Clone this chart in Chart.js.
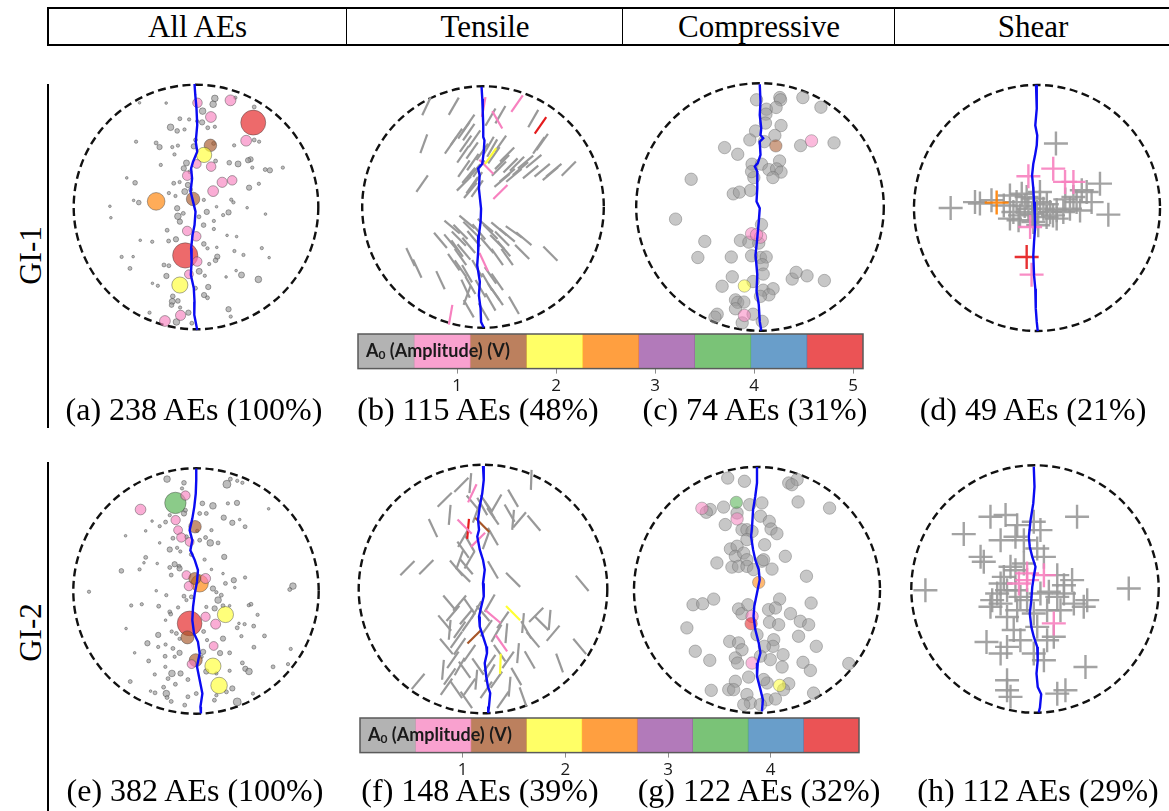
<!DOCTYPE html>
<html>
<head>
<meta charset="utf-8">
<title>AE source classification</title>
<script src="https://cdn.jsdelivr.net/npm/chart.js@4.4.0/dist/chart.umd.min.js"></script>
<style>
  body { margin: 0; background: #fff; width: 1169px; height: 811px; position: relative; overflow: hidden;
         font-family: "Liberation Serif", "Times New Roman", serif; color: #000; }
  canvas { position: absolute; }
  .hdr { position: absolute; left: 47px; top: 7px; width: 1130px; height: 35px;
         border-top: 2px solid #000; border-bottom: 2px solid #000; border-left: 2px solid #000; }
  .hdr div { position: absolute; top: 0; height: 35px; line-height: 35px; text-align: center; font-size: 31px; }
  .hdr .sep { border-left: 1.5px solid #000; }
  .cap { position: absolute; width: 360px; text-align: center; font-size: 32px; line-height: 32px; white-space: nowrap; }
  .row { position: absolute; font-size: 31px; line-height: 31px; transform: rotate(-90deg); white-space: nowrap; }
  .vline { position: absolute; left: 47px; width: 2px; background: #000; }
</style>
</head>
<body>
<div class="hdr">
  <div style="left:0;width:297px">All AEs</div>
  <div class="sep" style="left:297px;width:276px">Tensile</div>
  <div class="sep" style="left:573px;width:272px">Compressive</div>
  <div class="sep" style="left:845px;width:276px">Shear</div>
</div>

<div class="vline" style="top:84px;height:344px"></div>
<div class="vline" style="top:462px;height:349px"></div>
<div class="row" style="left:-10px;top:240px;width:80px;text-align:center">GI-1</div>
<div class="row" style="left:-10px;top:617px;width:80px;text-align:center">GI-2</div>

<canvas id="pa" width="260" height="260" style="left:66px;top:77px"></canvas>
<canvas id="pb" width="260" height="260" style="left:353px;top:77px"></canvas>
<canvas id="pc" width="260" height="260" style="left:630px;top:77px"></canvas>
<canvas id="pd" width="260" height="260" style="left:907px;top:78px"></canvas>
<canvas id="pe" width="260" height="260" style="left:66px;top:461px"></canvas>
<canvas id="pf" width="260" height="260" style="left:353px;top:459px"></canvas>
<canvas id="pg" width="260" height="260" style="left:627px;top:460px"></canvas>
<canvas id="ph" width="260" height="260" style="left:905px;top:459px"></canvas>

<canvas id="bar1" width="525" height="72" style="left:348px;top:330px"></canvas>
<canvas id="bar2" width="519" height="72" style="left:350px;top:714px"></canvas>

<div class="cap" style="left:14px;top:393px">(a) 238 AEs (100%)</div>
<div class="cap" style="left:298px;top:393px">(b) 115 AEs (48%)</div>
<div class="cap" style="left:575px;top:393px">(c) 74 AEs (31%)</div>
<div class="cap" style="left:853px;top:393px">(d) 49 AEs (21%)</div>
<div class="cap" style="left:15px;top:774px">(e) 382 AEs (100%)</div>
<div class="cap" style="left:300px;top:774px">(f) 148 AEs (39%)</div>
<div class="cap" style="left:579px;top:774px">(g) 122 AEs (32%)</div>
<div class="cap" style="left:858px;top:774px">(h) 112 AEs (29%)</div>

<script>
// specimen radius in mm; event positions are [x, y, ...] in mm from the centre
const specimenR = 50;

// amplitude colour classes (Set1) and colour bar ranges, in V
const ampColors = ['#999999', '#f781bf', '#a65628', '#ffff33', '#ff7f00', '#984ea3', '#4daf4a', '#377eb8', '#e41a1c'];
const barMax1 = 5.1;
const barMax2 = 4.86;
const barTicks1 = [1, 2, 3, 4, 5];
const barTicks2 = [1, 2, 3, 4];

// ---- GI-1 ----
// [x, y, A0]
const gi1All = [
  [7.7,44.4,.34],[7.0,42.0,.34],[2.7,39.2,.34],[2.5,34.6,.22],[4.8,32.4,.12],[7.7,32.8,.085],[0.5,35.1,.085],[-2.8,35.8,.085],
  [-6.6,36.1,.12],[-10.4,32.6,.34],[-7.7,31.1,.17],[-4.7,31.7,.085],[-12.2,42.5,.055],[-23.1,42.6,.055],[-24.5,26.7,.085],
  [-16.3,26.2,.12],[-14.9,24.5,.22],[-9.7,24.5,.085],[-7.4,25.1,.085],[-0.9,24.8,.22],[-0.2,27.4,.12],[7.2,26.0,.12],
  [15.6,25.2,.085],[23.8,27.4,.12],[25.8,26.7,.085],[22.3,19.5,.22],[21.3,19.1,.22],[17.2,17.6,.28],[13.6,18.1,.17],
  [8.0,18.8,.12],[-3.9,18.0,.28],[-5.0,15.8,.22],[-2.5,14.4,.12],[-8.8,21.5,.085],[-14.4,17.2,.085],[-24.9,9.9,.17],
  [-28.3,11.9,.055],[-9.1,9.7,.12],[-6.7,10.2,.085],[-3.3,9.0,.22],[-2.2,7.1,.12],[-4.6,6.3,.28],[-11.1,5.7,.085],
  [-8.4,4.5,.085],[3.2,2.9,.085],[14.4,3.0,.085],[15.3,1.9,.085],[13.3,-2.2,.22],[11.1,-3.3,.085],[8.4,0.1,.055],
  [4.4,-2.0,.22],[1.2,-4.0,.12],[-7.4,-3.8,.34],[-6.6,-6.0,.22],[-5.2,-2.6,.12],[-7.7,-0.5,.22],[-23.4,1.8,.17],
  [-25.5,2.7,.055],[-35.2,0.3,.055],[-34.8,-4.4,.055],[-11.8,-9.5,.12],[-8.2,-13.2,.22],[-11.2,-13.9,.12],
  [-17.9,-14.2,.085],[-22.8,-13.6,.055],[3.1,-7.4,.17],[7.3,-9.0,.085],[7.3,-5.7,.085],[3.2,-15.1,.17],[4.7,-16.9,.085],
  [8.5,-16.5,.055],[12.7,-11.6,.055],[16.6,-12.1,.055],[15.7,-18.0,.085],[8.7,-20.3,.22],[8.0,-21.8,.17],[5.4,-23.3,.085],
  [1.3,-26.3,.28],[3.6,-28.1,.085],[-13.1,-23.7,.12],[-11.1,-24.0,.12],[-12.1,-28.2,.22],[-15.6,-32.2,.085],
  [-17.8,-31.2,.055],[-27.0,-25.1,.12],[-30.4,-20.4,.085],[-25.7,-20.3,.055],[-9.5,-36.5,.17],[-9.7,-38.6,.28],
  [-10.0,-40.1,.17],[-7.4,-38.4,.17],[5.0,-32.7,.22],[3.3,-36.0,.22],[4.7,-37.1,.12],[-0.2,-33.2,.12],[13.3,-41.8,.22],
  [14.2,-44.8,.085],[18.6,-27.8,.28],[25.5,-29.6,.34],[26.9,-16.8,.085],[29.9,-20.7,.055],[19.4,-19.6,.085],
  [16.4,-26.0,.055],[12.3,-28.6,.055],[20.9,-0.3,.055],[28.4,-2.9,.055],[35.5,16.1,.085],[28.3,15.3,.12],[30.2,15.0,.22],
  [21.7,7.9,.22],[25.7,9.5,.085],[23.0,16.1,.085],[23.8,40.9,.12],[16.1,44.7,.085],[-19.0,-43.2,.085],[-8.0,-47.0,.34],
  [-3.1,-43.2,.22],[-1.7,-47.5,.12],[-6.5,-41.1,.085],
  [23.4,34.5,4.8],[14.1,43.6,0.9],[0.6,42.6,0.7],[6.1,36.8,0.9],[20.5,27.1,0.9],[5.9,25.2,1.2],[3.3,21.3,1.8],
  [6.2,16.5,0.7],[0.3,17.6,0.6],[-3.6,12.8,0.7],[10.7,10.1,0.8],[14.8,10.9,0.7],[7.0,6.5,0.9],[-16.3,2.3,2.4],
  [-1.2,3.3,1.4],[-3.6,-9.8,0.7],[0.1,-12.0,0.7],[-4.4,-19.8,4.9],[0.5,-22.3,0.7],[-2.9,-27.5,0.6],[-6.6,-31.9,2.0],
  [-12.7,-46.6,0.9],[-6.3,-44.3,0.8]
];
// [x, y, crack angle in degrees, A0]
const gi1Tensile = [
  [-23.4,41.7,65,.3],[-12.1,41.7,60,.3],[7.2,38.2,60,.3],[3.1,37.2,60,.3],[20.8,36.6,60,.3],[-5.9,34.8,55,.3],
  [-7.9,31.7,55,.3],[-11.0,29.0,55,.3],[-13.4,25.5,55,.3],[-5.9,31.0,55,.3],[-3.5,28.3,55,.3],[-7.2,26.2,55,.3],
  [-4.5,23.4,55,.3],[-8.3,21.8,55,.3],[-24.5,26.2,70,.3],[2.4,25.5,60,.3],[3.8,24.4,60,.3],[4.5,21.4,55,.3],
  [7.2,26.2,55,.3],[24.5,26.9,55,.3],[23.1,25.5,55,.3],[10.0,21.7,45,.3],[7.9,18.6,45,.3],[6.6,15.9,45,.3],
  [11.4,17.2,45,.3],[14.1,17.9,45,.3],[15.5,15.9,40,.3],[17.6,18.6,40,.3],[21.0,18.9,40,.3],[19.7,14.5,40,.3],
  [24.5,15.2,40,.3],[27.9,13.8,40,.3],[29.3,15.2,40,.3],[35.5,15.9,45,.3],[10.0,13.1,40,.3],[12.8,13.1,40,.3],
  [7.9,11.0,40,.3],[-4.2,18.6,55,.3],[-3.8,14.5,50,.3],[-5.9,13.1,50,.3],[-7.9,9.7,45,.3],[-4.5,9.0,55,.3],
  [-2.7,11.0,55,.3],[-2.4,7.6,55,.3],[-5.2,6.9,50,.3],[-25.2,9.7,55,.3],[-0.3,22.8,55,.3],[-1.7,15.9,55,.3],
  [-7.9,15.9,55,.3],
  [-6.6,-6.2,-40,.3],[-5.2,-9.0,-45,.3],[-9.3,-10.3,-45,.3],[-12.8,-8.3,-40,.3],[-3.8,-13.1,-50,.3],[1.0,-7.6,-40,.3],
  [3.1,-10.3,-45,.3],[6.6,-9.0,-40,.3],[10.0,-11.7,-40,.3],[12.8,-10.3,-35,.3],[16.9,-13.1,-40,.3],[27.9,-19.3,-45,.3],
  [-17.6,-13.8,-50,.3],[-13.4,-14.5,-50,.3],[-10.7,-17.2,-55,.3],[-7.9,-18.6,-50,.3],[-5.9,-15.9,-50,.3],
  [1.7,-15.9,-50,.3],[5.9,-14.5,-45,.3],[8.6,-17.2,-50,.3],[10.0,-20.7,-55,.3],[16.2,-18.6,-45,.3],[5.9,-20.7,-55,.3],
  [-30.0,-20.7,-65,.3],[-27.2,-25.5,-65,.3],[-12.1,-22.8,-55,.3],[-9.3,-25.5,-55,.3],[-6.6,-27.6,-60,.3],
  [3.1,-28.3,-55,.3],[5.9,-31.0,-55,.3],[-17.6,-30.3,-65,.3],[-5.2,-32.4,-60,.3],[-1.0,-33.8,-60,.3],[4.5,-35.2,-55,.3],
  [5.9,-37.2,-55,.3],[-6.6,-36.6,70,.3],[-5.9,-42.1,-60,.3],[12.8,-40.7,-60,.3],[0.3,-43.4,-60,.3],[-10.0,-13.1,-45,.3],
  [-1.7,-10.3,-50,.3],[7.9,-13.1,-45,.3],[-9.3,-20.7,-55,.3],[-2.4,-25.5,-60,.3],[1.7,-31.0,-60,.3],[-7.2,-33.8,-65,.3],
  [3.1,-39.3,-60,.3],
  [0.3,41.4,80,.8],[14.1,42.8,55,.9],[5.9,36.1,-60,.8],[23.8,33.8,55,4.8],[3.1,21.0,55,1.9],[1.4,16.6,-45,.8],
  [7.2,6.2,45,.8],[0.3,-22.8,-65,.9],[-13.4,-44.6,80,.9]
];
const gi1Compressive = [
  [-1.4,43.3,.3],[8.0,44.2,.3],[8.3,43.3,.3],[17.3,44.2,.3],[24.6,40.3,.3],[2.6,39.5,.3],[6.5,40.2,.3],[2.4,37.5,.3],
  [2.2,33.9,.3],[8.5,32.9,.3],[-1.8,30.7,.3],[-4.1,27.1,.3],[6.0,28.9,.3],[1.8,26.4,.3],[16.4,24.8,.3],[29.9,25.9,.3],
  [-14.3,24.0,.3],[-9.0,21.3,.3],[-3.2,17.3,.3],[0.6,17.3,.3],[7.9,18.6,.3],[3.6,15.1,.3],[6.7,15.4,.3],[8.5,14.1,.3],
  [5.2,11.9,.3],[-2.5,11.9,.3],[-3.4,14.3,.3],[-27.8,11.2,.3],[-10.8,5.3,.3],[-8.3,6.0,.3],[-3.8,6.7,.3],[-34.1,-4.9,.3],
  [0.6,-7.1,.3],[-22.3,-13.9,.3],[-7.9,-13.5,.3],[-4.5,-14.2,.3],[-0.5,-14.6,.3],[-25.1,-20.4,.3],[-11.6,-20.2,.3],
  [-3.4,-19.7,.3],[0.2,-20.4,.3],[2.5,-20.2,.3],[0.9,-23.3,.3],[1.3,-27.1,.3],[-11.2,-28.2,.3],[-15.3,-32.0,.3],
  [-2.8,-30.1,.3],[1.3,-33.6,.3],[5.3,-33.0,.3],[3.6,-35.5,.3],[0.2,-36.1,.3],[13.0,-29.1,.3],[14.6,-26.4,.3],
  [19.0,-27.8,.3],[26.0,-29.7,.3],[-9.9,-37.5,.3],[-9.0,-38.5,.3],[-6.5,-38.4,.3],[-9.9,-41.1,.3],[-17.3,-43.3,.3],
  [-18.2,-44.5,.3],[-2.8,-43.3,.3],[-7.2,-46.8,.3],[0.9,-46.2,.3],
  [6.4,24.7,1.3],[20.8,26.7,.8],[-3.4,-10.8,.8],[0.2,-12.2,.8],[-1.4,-11.2,.7],[-6.3,-31.9,1.9],[-6.3,-43.8,.8]
];
const gi1Shear = [
  [7.7,26.2,.3],[25.6,9.9,.3],[20.2,6.5,.3],[14.8,4.5,.3],[16.1,2.4,.3],[22.2,2.4,.3],[29.0,-2.7,.3],[-35.1,0.0,.3],
  [-25.2,2.4,.3],[-23.2,1.8,.3],[-11.0,5.1,.3],[-8.3,2.4,.3],[-6.2,5.8,.3],[-4.2,4.5,.3],[-1.5,3.8,.3],[1.2,2.4,.3],
  [-9.6,-1.6,.3],[-6.9,-3.0,.3],[-3.5,-0.3,.3],[-0.1,-1.6,.3],[2.6,-0.3,.3],[5.3,-1.6,.3],[8.0,-0.9,.3],[10.7,-1.6,.3],
  [13.4,-0.3,.3],[8.0,-4.3,.3],[3.9,-3.7,.3],[-1.5,-5.7,.3],[18.2,7.2,.3],[-11.0,-4.3,.3],[1.2,6.5,.3],
  [-13.5,1.0,.3],[-5.0,0.8,.3],[4.0,1.5,.3],[6.5,-3.0,.3],[-2.0,-2.5,.3],[11.5,3.5,.3],[-7.5,-5.0,.3],[0.5,-7.0,.3],
  [17.5,-1.0,.3],[-18.5,3.2,.3],
  [6.6,16.0,.8],[-3.5,12.9,.8],[11.4,10.6,.8],[14.8,10.6,.8],[-16.4,2.2,2.5],[-2.8,-7.7,.8],[-4.2,-19.9,4.8],[-2.2,-27.1,.8]
];

// macro-crack traces, [x, y] in mm
const crackA = [[-0.6,50.3],[-0.3,45.8],[0.2,40.3],[0.5,33.5],[-0.1,26.7],[0.5,22.6],[-1.2,18.5],[-2.0,15.8],[-1.6,11.7],
  [-2.2,6.3],[-1.2,2.2],[-0.2,-1.9],[-0.6,-7.4],[-1.4,-11.4],[-2.0,-16.9],[-1.8,-22.3],[-2.1,-27.8],[-0.9,-33.2],
  [-0.6,-38.7],[-0.7,-44.1],[0.5,-50.3]];
const crackB = [[-0.6,49.7],[-0.3,44.8],[-0.1,39.3],[0.1,33.8],[0.1,29.0],[0.6,27.6],[0.3,22.8],[-0.3,17.9],[-2.0,15.9],
  [-1.4,13.1],[-1.7,7.6],[-0.8,-0.7],[-1.0,-6.2],[-1.7,-11.7],[-2.0,-18.6],[-2.4,-24.1],[-1.3,-31.0],[-1.7,-36.6],
  [-1.0,-42.1],[-0.8,-47.6],[0.3,-49.9]];
const crackC = [[-0.1,49.6],[0.2,42.6],[-0.1,37.2],[0.5,31.8],[0.2,29.1],[1.3,27.8],[-0.1,26.4],[0.2,21.1],[-0.9,17.7],
  [-2.1,16.4],[-1.1,14.3],[-1.1,7.6],[-1.4,2.2],[-0.1,-0.5],[-0.5,-5.9],[-1.1,-12.6],[-1.8,-19.3],[-1.1,-27.3],
  [-1.4,-34.0],[-0.5,-39.4],[-0.1,-46.2],[0.5,-49.9]];
const crackD = [[-0.4,50.1],[-0.1,40.4],[-0.7,33.6],[0.1,29.5],[-0.1,25.5],[-0.8,21.4],[-1.5,18.0],[-2.0,13.3],[-1.5,7.9],
  [-1.2,2.4],[-0.9,-3.0],[-0.8,-8.4],[-1.2,-13.8],[-1.5,-19.2],[-1.2,-27.4],[-0.7,-32.8],[-0.5,-40.9],[-0.1,-46.3],
  [0.3,-50.1]];

// ---- GI-2 ----
const gi2All = [
  [-11.8,45.6,.34],[-4.9,44.1,.17],[-5.7,41.8,.085],[12.6,43.5,.49],[14.0,45.6,.12],[16.8,44.9,.085],[18.9,44.1,.085],
  [2.6,35.7,.17],[6.9,34.7,.34],[13.0,35.7,.085],[16.7,35.9,.22],[29.6,33.5,.055],[-10.7,30.9,.085],[-4.9,31.6,.22],
  [-4.3,32.9,.12],[1.5,31.6,.12],[4.2,31.6,.12],[11.3,29.9,.22],[14.8,27.8,.22],[20.0,26.2,.12],[17.8,29.1,.055],
  [-17.9,28.5,.055],[-14.8,26.4,.085],[-12.4,28.1,.12],[-20.5,24.5,.055],[-28.7,22.5,.055],[-9.4,21.5,.12],
  [-3.9,22.1,.12],[3.9,21.8,.12],[6.3,24.8,.085],[5.8,19.6,.34],[9.0,19.6,.12],[0.5,24.5,.085],[1.5,20.7,.12],
  [-10.7,16.9,.22],[-7.7,17.6,.085],[-14.8,19.6,.055],[-6.4,16.1,.085],[-1.9,14.9,.12],[3.5,12.8,.085],[11.5,13.9,.22],
  [-20.5,13.7,.12],[-21.2,11.5,.055],[-23.0,8.8,.085],[-30.4,8.2,.17],[-15.8,11.2,.055],[-10.7,9.6,.12],[-8.7,10.9,.22],
  [-6.9,10.1,.12],[-10.1,6.5,.12],[-6.7,9.2,.22],[6.3,8.8,.055],[11.0,7.1,.055],[15.4,4.4,.22],[20.0,5.5,.085],
  [12.0,3.1,.12],[6.9,1.0,.22],[8.3,-0.5,.085],[15.8,1.4,.055],[10.3,-1.7,.12],[9.0,-3.7,.34],[11.0,-6.0,.12],
  [7.6,-7.1,.22],[39.5,2.0,.34],[38.2,0.6,.12],[-43.6,-0.3,.085],[-26.4,-5.9,.085],[-22.1,-5.4,.085],[-16.2,0.1,.055],
  [-12.1,-1.7,.085],[-15.2,-6.2,.12],[-10.7,-8.5,.12],[-7.3,-6.7,.085],[-4.9,-2.1,.12],[-3.9,-3.7,.085],[-1.9,-2.4,.12],
  [4.2,-6.5,.085],[13.7,-6.0,.055],[22.4,-5.4,.12],[21.5,-5.8,.085],[25.1,-9.7,.085],[-10.3,-9.4,.12],[-12.4,-11.9,.055],
  [-9.9,-16.5,.085],[-8.0,-17.3,.12],[-6.7,-19.5,.085],[-15.4,-17.9,.22],[-19.8,-21.3,.22],[-15.4,-22.8,.085],
  [-12.4,-21.8,.085],[-9.4,-23.4,.12],[-6.7,-25.2,.22],[-8.7,-26.8,.085],[-12.6,-26.6,.12],[-25.0,-25.2,.055],
  [-28.5,-15.3,.055],[3.1,-16.5,.12],[4.5,-20.0,.085],[11.0,-19.4,.22],[16.8,-15.0,.12],[17.5,-13.2,.055],
  [19.8,-13.5,.085],[23.5,-14.3,.12],[18.5,-18.4,.085],[23.6,-22.9,.12],[27.9,-18.3,.12],[38.6,-23.6,.085],
  [9.8,-25.3,.22],[13.7,-25.2,.12],[2.9,-24.8,.22],[2.3,-26.8,.085],[-19.3,-28.5,.12],[-12.5,-30.9,.085],
  [-9.8,-33.6,.34],[-6.3,-33.6,.22],[-3.3,-36.1,.12],[-11.4,-35.7,.12],[-8.4,-38.0,.12],[-13.2,-39.2,.12],
  [-16.8,-34.0,.085],[-26.8,-36.9,.12],[-16.7,-41.5,.12],[-18.5,-40.8,.055],[-12.1,-41.8,.34],[-11.8,-43.4,.12],
  [-10.1,-45.0,.12],[-3.3,-43.1,.12],[-4.6,-46.5,.12],[4.2,-32.8,.22],[8.3,-33.6,.085],[13.7,-32.5,.085],
  [14.8,-39.7,.22],[18.9,-29.3,.12],[20.1,-31.7,.22],[21.6,-32.8,.34],[31.4,-30.9,.12],[37.5,-29.8,.085],
  [23.2,-41.8,.085],[16.8,-45.2,.49],[7.5,-44.5,.12],[8.3,-42.5,.085],[0.1,-41.8,.12],[12.4,-41.1,.12],
  [-8.4,35.9,3.5],[-4.3,38.9,.67],[-22.6,33.2,.88],[-8.3,28.9,.67],[-0.4,26.2,1.2],[-7.3,24.8,.6],[-6.0,21.8,.67],
  [-2.6,20.0,.6],[-3.9,6.5,.6],[1.5,3.1,2.3],[3.9,5.1,.77],[-2.9,2.0,.67],[-0.5,5.1,1.1],[12.0,-9.6,2.0],
  [3.9,-10.5,.67],[8.0,-13.5,.77],[-2.6,-13.2,4.7],[-3.5,-18.9,1.3],[7.2,-22.4,.6],[-0.1,-28.2,1.3],[-1.8,-29.8,.6],
  [6.9,-30.6,2.0],[9.4,-38.5,2.1]
];
const gi2Tensile = [
  [-8.7,41.9,45,.3],[-5.1,42.6,85,.3],[-15.4,35.9,45,.3],[-13.4,29.8,85,.3],[-20.1,24.5,-65,.3],[1.3,34.5,-55,.3],
  [2.7,31.8,-60,.3],[-0.3,33.2,-60,.3],[5.4,34.5,60,.3],[12.1,36.5,-60,.3],[10.7,30.5,-60,.3],[12.1,27.8,85,.3],
  [14.7,27.8,50,.3],[20.5,26.5,-50,.3],[19.4,43.9,88,.3],[4.0,21.1,-60,.3],[1.3,19.8,70,.3],[-8.0,20.4,60,.3],
  [-8.0,15.8,-55,.3],[-5.4,11.7,60,.3],[-9.4,11.7,70,.3],[-6.7,9.0,-50,.3],[-10.7,8.4,-50,.3],[-8.0,5.7,-45,.3],
  [4.0,7.7,-60,.3],[-30.4,8.4,45,.3],[-22.8,8.8,45,.3],[12.1,3.7,-45,.3],[39.9,2.3,-50,.3],
  [-4.0,34.5,-50,.3],[-2.7,30.5,70,.3],[4.0,29.2,-55,.3],[-5.4,18.4,-60,.3],
  [-9.4,-5.7,50,.3],[-5.4,-7.0,-55,.3],[-12.1,-9.8,50,.3],[2.7,-5.7,60,.3],[0.0,-9.8,-50,.3],[8.0,-12.4,55,.3],
  [21.4,-10.4,45,.3],[23.5,-13.7,-45,.3],[26.8,-12.4,85,.3],[-15.4,-13.7,-50,.3],[-13.4,-16.4,85,.3],[-9.4,-16.4,55,.3],
  [-6.0,-13.7,55,.3],[1.3,-15.8,55,.3],[5.4,-17.8,60,.3],[9.4,-17.8,85,.3],[16.1,-13.7,85,.3],[17.4,-16.4,-60,.3],
  [20.1,-20.4,-50,.3],[28.2,-17.8,50,.3],[38.9,-23.1,-50,.3],[-14.7,-23.1,-50,.3],[-9.4,-23.1,55,.3],[-5.4,-25.8,55,.3],
  [-12.1,-28.5,55,.3],[-16.1,-32.5,85,.3],[-13.4,-35.2,55,.3],[-7.4,-32.5,-55,.3],[-2.0,-31.2,-55,.3],[2.7,-29.8,55,.3],
  [10.1,-28.5,55,.3],[14.1,-25.8,85,.3],[18.8,-28.5,-60,.3],[30.8,-29.8,-70,.3],[-26.1,-37.2,50,.3],[-14.7,-39.3,55,.3],
  [-10.7,-40.6,-55,.3],[-5.4,-39.3,55,.3],[-2.7,-36.5,85,.3],[1.3,-40.6,55,.3],[5.4,-36.5,55,.3],[10.7,-39.3,85,.3],
  [16.1,-43.4,-70,.3],[8.0,-44.6,55,.3],[-6.7,-44.6,-55,.3],
  [-13.4,-5.7,-50,.3],[-6.7,-11.1,50,.3],[-2.7,-8.4,60,.3],[-10.7,-20.4,55,.3],[6.7,-25.8,-55,.3],[2.7,-33.8,60,.3],
  [-9.4,-31.2,60,.3],[13.4,-35.2,-60,.3],
  [-4.3,38.5,65,.8],[-6.0,24.2,85,4.7],[-7.4,25.1,-45,.8],[-0.3,25.8,-45,1.3],[-2.0,19.8,45,.8],[4.0,-11.1,-40,.8],
  [12.1,-9.7,-45,1.9],[-3.4,-19.1,45,1.3],[7.4,-21.8,-55,.8],[7.0,-30.1,88,1.9]
];
const gi2Compressive = [
  [-11.9,45.5,.3],[-5.1,44.2,.3],[12.9,43.5,.3],[16.3,44.9,.3],[14.2,42.8,.3],[16.7,35.8,.3],[29.5,33.3,.3],
  [-19.0,32.7,.3],[-20.6,31.6,.3],[-13.6,33.7,.3],[-8.1,31.3,.3],[-3.0,34.7,.3],[2.0,35.4,.3],[1.4,30.0,.3],[5.0,27.9,.3],
  [5.7,24.8,.3],[8.1,22.9,.3],[-12.9,26.6,.3],[-6.1,24.5,.3],[-4.1,24.5,.3],[-2.0,23.8,.3],[-4.1,20.5,.3],[3.1,18.4,.3],
  [-10.8,16.7,.3],[-8.1,17.8,.3],[-8.8,13.7,.3],[-5.4,15.0,.3],[-4.1,12.3,.3],[-16.3,11.0,.3],[-10.2,9.3,.3],
  [-7.5,9.6,.3],[-4.1,9.6,.3],[-1.4,8.3,.3],[2.0,11.7,.3],[2.7,12.3,.3],[6.1,8.5,.3],[11.5,13.7,.3],[20.1,5.6,.3],
  [-26.0,-6.0,.3],[-22.1,-5.6,.3],[-17.6,-3.7,.3],[-7.5,-7.7,.3],[-6.1,-9.6,.3],[-3.7,-6.0,.3],[9.2,-3.7,.3],
  [4.7,-8.0,.3],[7.5,-7.3,.3],[5.1,-13.1,.3],[8.8,-14.1,.3],[13.6,-9.6,.3],[17.6,-12.7,.3],[21.0,-14.1,.3],[22.0,-5.3,.3],
  [-28.5,-15.4,.3],[-11.1,-20.9,.3],[-7.5,-21.5,.3],[-6.1,-24.3,.3],[0.0,-18.2,.3],[6.8,-20.2,.3],[6.5,-22.9,.3],
  [3.0,-22.9,.3],[1.4,-26.9,.3],[5.4,-28.3,.3],[16.9,-18.8,.3],[24.1,-22.9,.3],[-25.1,-24.9,.3],[-19.2,-28.6,.3],
  [-8.8,-27.6,.3],[-7.9,-29.7,.3],[10.6,-26.3,.3],[10.2,-31.3,.3],[18.7,-29.4,.3],[21.7,-32.7,.3],[37.3,-29.9,.3],
  [-8.8,-37.1,.3],[-11.5,-40.5,.3],[-18.6,-40.8,.3],[-9.5,-40.5,.3],[-3.4,-35.4,.3],[4.1,-37.8,.3],[12.9,-38.1,.3],
  [10.8,-40.5,.3],[23.0,-41.9,.3],[-4.1,-42.5,.3],[-2.7,-45.9,.3],[-5.4,-46.6,.3],[4.1,-44.6,.3],[7.5,-44.3,.3],
  [1.4,-46.6,.3],[2.7,-36.4,.3],
  [-22.4,33.2,.8],[-8.4,35.6,3.5],[-8.1,28.9,.8],[0.7,3.1,2.4],[-2.0,-10.7,.8],[-2.4,-13.7,4.7],[-2.0,-29.7,.8],
  [9.2,-38.8,1.9]
];
const gi2Shear = [
  [-18.0,29.2,.3],[-11.9,29.9,.3],[-28.8,22.2,.3],[-7.2,25.8,.3],[-0.5,27.2,.3],[2.2,23.8,.3],[17.0,29.2,.3],
  [-13.9,19.7,.3],[-7.9,21.1,.3],[-4.5,19.7,.3],[0.9,16.4,.3],[3.6,13.0,.3],[-22.0,13.0,.3],[-20.7,11.0,.3],
  [-9.9,9.0,.3],[-7.9,7.6,.3],[-4.5,10.3,.3],[-12.6,4.9,.3],[-11.3,-0.5,.3],[-7.9,-0.5,.3],[-15.3,-1.8,.3],
  [-17.3,-4.5,.3],[-18.0,-7.2,.3],[-13.9,-5.9,.3],[-5.9,-3.2,.3],[-3.2,-4.5,.3],[2.2,-1.8,.3],[5.6,-1.1,.3],
  [9.0,-3.2,.3],[11.7,1.5,.3],[15.0,3.6,.3],[11.7,-1.8,.3],[21.1,-4.5,.3],[15.7,-5.9,.3],[19.7,-7.2,.3],[10.3,-8.6,.3],
  [4.9,-8.6,.3],[-0.5,-9.9,.3],[-7.2,-8.6,.3],[-11.3,-11.3,.3],[-8.6,-16.6,.3],[-5.9,-20.7,.3],[-11.3,-23.4,.3],
  [-13.9,-26.1,.3],[-19.6,-21.4,.3],[4.9,-20.7,.3],[7.6,-19.3,.3],[0.9,-15.3,.3],[3.6,-28.8,.3],[20.4,-31.5,.3],
  [-11.3,-36.9,.3],[-11.3,-40.9,.3],[-9.9,-43.6,.3],[9.0,-42.3,.3],[12.3,-40.9,.3],[37.9,0.2,.3],[-44.3,-0.5,.3],
  [-0.5,-26.1,.3],[9.0,5.6,.3],[-13.9,2.2,.3],
  [-3.2,6.3,.8],[3.6,5.6,.8],[-6.5,2.2,.8],[-3.2,3.6,.8],[7.6,-13.9,.8]
];

const crackE = [[0.1,49.9],[0.1,45.2],[-0.1,39.7],[-0.7,34.3],[-1.5,29.5],[-2.6,24.8],[-1.5,20.7],[-2.3,16.6],[-0.5,12.6],
  [0.8,8.5],[0.4,3.7],[-0.5,-1.0],[-1.2,-6.5],[-1.5,-11.9],[-0.8,-17.3],[0.8,-20.7],[1.5,-25.5],[0.4,-30.8],[1.5,-36.3],
  [2.6,-41.8],[1.8,-47.2],[2.0,-49.9]];
const crackF = [[0.0,49.5],[0.3,43.9],[-0.3,38.5],[-1.3,33.2],[-2.0,27.9],[-1.6,23.8],[-2.3,21.1],[-1.3,15.8],[0.0,11.7],
  [0.7,7.7],[0.0,2.3],[0.3,-3.0],[-0.7,-7.0],[-1.6,-11.1],[-1.3,-15.1],[0.0,-19.1],[1.3,-23.1],[1.6,-25.8],[0.7,-29.8],
  [1.3,-35.2],[2.0,-39.3],[2.9,-41.9],[2.4,-47.3],[2.1,-49.9]];
const crackG = [[0.0,50.0],[0.0,43.5],[-0.7,38.1],[-1.6,32.6],[-2.0,25.9],[-2.4,21.8],[-1.6,16.4],[-0.7,12.3],[0.7,8.3],
  [1.1,4.2],[0.0,-1.2],[-1.1,-6.6],[-1.4,-10.7],[-0.7,-16.1],[0.7,-21.5],[1.4,-25.6],[0.3,-29.7],[0.0,-35.1],
  [1.4,-40.5],[2.4,-44.6],[2.0,-49.3]];
const crackH = [[-0.5,49.4],[-0.2,41.3],[-0.7,34.6],[-1.8,27.8],[-2.5,21.1],[-2.1,17.0],[-1.1,13.0],[0.2,9.0],[-0.5,4.9],
  [-1.1,0.9],[-1.5,-4.5],[-2.1,-9.9],[-1.5,-15.3],[-0.5,-19.3],[0.9,-23.4],[1.1,-28.8],[0.6,-34.2],[1.1,-39.6],
  [2.5,-42.5],[2.0,-47.9],[1.5,-49.9]];

function rgba(hex, a) {
  const n = parseInt(hex.slice(1), 16);
  return `rgba(${n >> 16},${(n >> 8) & 255},${n & 255},${a})`;
}

function ampColor(a, max) {
  return ampColors[Math.min(8, Math.floor(a / (max / 9)))];
}

// dashed outline of the specimen
const outline = {
  id: 'outline',
  beforeDatasetsDraw(chart) {
    const { ctx, scales: { x, y } } = chart;
    const cx = x.getPixelForValue(0);
    const cy = y.getPixelForValue(0);
    const r = x.getPixelForValue(specimenR) - cx;
    ctx.save();
    ctx.setLineDash([8, 4.5]);
    ctx.lineWidth = 2.4;
    ctx.strokeStyle = '#111';
    ctx.beginPath();
    ctx.arc(cx, cy, r, 0, Math.PI * 2);
    ctx.stroke();
    ctx.restore();
  }
};

function eventSet(events, kind, max) {
  const cols = events.map(e => ampColor(e[e.length - 1], max));
  const pts = events.map(e => ({ x: e[0], y: e[1] }));
  if (kind === 'all') {
    return {
      data: pts, pointStyle: 'circle',
      pointRadius: events.map(e => 5.7 * Math.sqrt(e[2])),
      pointBackgroundColor: cols.map(c => rgba(c, 0.65)),
      pointBorderColor: 'rgba(60,60,60,0.55)', pointBorderWidth: 0.8
    };
  }
  if (kind === 'compressive') {
    return {
      data: pts, pointStyle: 'circle', pointRadius: 6.2,
      pointBackgroundColor: cols.map(c => rgba(c, 0.55)),
      pointBorderColor: 'rgba(110,110,110,0.45)', pointBorderWidth: 1
    };
  }
  if (kind === 'tensile') {
    return {
      data: pts, pointStyle: 'line', pointRadius: 10,
      pointRotation: events.map(e => -e[2]),
      pointBorderColor: cols, pointBackgroundColor: cols, pointBorderWidth: 2.2
    };
  }
  return {
    data: pts, pointStyle: 'cross', pointRadius: 12,
    pointBorderColor: cols.map(c => rgba(c, 0.9)), pointBorderWidth: 2.4
  };
}

function drawPanel(id, events, crack, kind, max, rPx) {
  const half = specimenR * 130 / rPx;
  new Chart(document.getElementById(id), {
    type: 'scatter',
    data: {
      datasets: [
        Object.assign(eventSet(events, kind, max), { order: 1 }),
        {
          data: crack.map(p => ({ x: p[0], y: p[1] })), showLine: true, order: 0,
          borderColor: '#0b0bf2', borderWidth: 2.4, pointRadius: 0, tension: 0
        }
      ]
    },
    options: {
      responsive: false, animation: false, events: [],
      layout: { padding: 0, autoPadding: false },
      plugins: { legend: { display: false }, tooltip: { enabled: false } },
      scales: {
        x: { type: 'linear', min: -half, max: half, display: false },
        y: { type: 'linear', min: -half, max: half, display: false }
      }
    },
    plugins: [outline]
  });
}

// title and frame inside the colour bar
const barLabel = {
  id: 'barLabel',
  afterDatasetsDraw(chart) {
    const { ctx, chartArea: a } = chart;
    const ym = (a.top + a.bottom) / 2;
    ctx.save();
    ctx.strokeStyle = '#5a5a5a';
    ctx.lineWidth = 1.5;
    ctx.strokeRect(a.left, a.top, a.right - a.left, a.bottom - a.top);
    ctx.fillStyle = '#1a1a1a';
    ctx.textBaseline = 'middle';
    let x = a.left + 8;
    ctx.font = 'bold 18px Lato';
    ctx.fillText('A', x, ym);
    x += ctx.measureText('A').width;
    ctx.font = 'bold 12px Lato';
    ctx.fillText('0', x, ym + 4);
    x += ctx.measureText('0').width;
    ctx.font = 'bold 18px Lato';
    ctx.fillText(' (Amplitude) (V)', x, ym);
    ctx.restore();
  }
};

function drawColorbar(id, max, ticks) {
  const step = max / 9;
  new Chart(document.getElementById(id), {
    type: 'bar',
    data: {
      labels: [''],
      datasets: ampColors.map(c => ({
        data: [step], backgroundColor: rgba(c, 0.75), borderWidth: 0,
        barPercentage: 1, categoryPercentage: 1
      }))
    },
    options: {
      indexAxis: 'y', responsive: false, animation: false, events: [],
      layout: { padding: { left: 10, right: 10, top: 4, bottom: 4 } },
      plugins: { legend: { display: false }, tooltip: { enabled: false } },
      scales: {
        x: {
          stacked: true, min: 0, max: max,
          afterBuildTicks: s => { s.ticks = ticks.map(v => ({ value: v })); },
          grid: { drawOnChartArea: false, drawTicks: true, tickLength: 5, color: '#8c8c8c' },
          border: { display: false },
          ticks: { color: '#1a1a1a', font: { family: 'Open Sans', size: 17 }, padding: 2, maxRotation: 0 }
        },
        y: { stacked: true, display: false }
      }
    },
    plugins: [barLabel]
  });
}

drawPanel('pa', gi1All, crackA, 'all', barMax1, 122.3);
drawPanel('pb', gi1Tensile, crackB, 'tensile', barMax1, 120.8);
drawPanel('pc', gi1Compressive, crackC, 'compressive', barMax1, 123.8);
drawPanel('pd', gi1Shear, crackD, 'shear', barMax1, 123);
drawPanel('pe', gi2All, crackE, 'all', barMax2, 122.7);
drawPanel('pf', gi2Tensile, crackF, 'tensile', barMax2, 124.3);
drawPanel('pg', gi2Compressive, crackG, 'compressive', barMax2, 123);
drawPanel('ph', gi2Shear, crackH, 'shear', barMax2, 123.7);
drawColorbar('bar1', barMax1, barTicks1);
drawColorbar('bar2', barMax2, barTicks2);
</script>
</body>
</html>
